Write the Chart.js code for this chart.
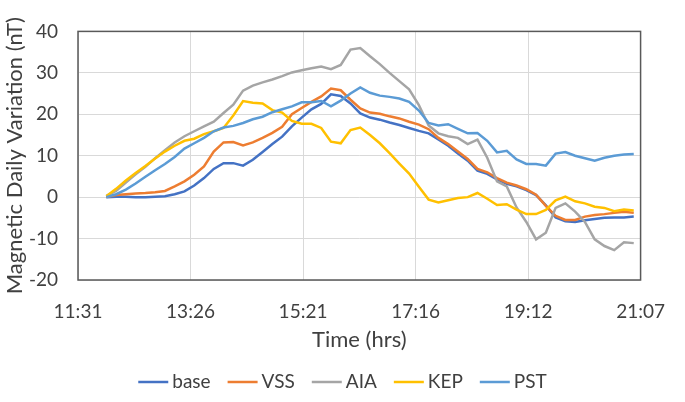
<!DOCTYPE html>
<html><head><meta charset="utf-8">
<script src="https://cdn.jsdelivr.net/npm/chart.js@4.4.1/dist/chart.umd.min.js"></script>
<style>html,body{margin:0;padding:0;background:#fff;overflow:hidden}</style>
</head><body>
<canvas id="c" width="685" height="402"></canvas>
<script>
// ---- data ----
const times = ['12:00','12:10','12:20','12:30','12:40','12:50','13:00','13:10','13:20','13:30',
 '13:40','13:50','14:00','14:10','14:20','14:30','14:40','14:50','15:00','15:10',
 '15:20','15:30','15:40','15:50','16:00','16:10','16:20','16:30','16:40','16:50',
 '17:00','17:10','17:20','17:30','17:40','17:50','18:00','18:10','18:20','18:30',
 '18:40','18:50','19:00','19:10','19:20','19:30','19:40','19:50','20:00','20:10',
 '20:20','20:30','20:40','20:50','21:00'];
const tickLabels = ['11:31','13:26','15:21','17:16','19:12','21:07'];
const yTicks = [-20,-10,0,10,20,30,40];

const base = [0,0.1,0.1,0,0,0.1,0.2,0.7,1.4,2.8,
 4.6,6.8,8.2,8.2,7.6,9.0,10.9,12.8,14.6,17.1,
 19.2,21.2,22.5,24.8,24.4,22.6,20.2,19.2,18.7,18.0,
 17.4,16.7,16.0,15.4,13.9,12.4,10.5,8.8,6.4,5.6,
 4.3,3.2,2.6,1.7,0.5,-2.0,-4.9,-5.8,-6.0,-5.6,
 -5.3,-5.0,-4.9,-4.9,-4.7];
const vss = [0,0.5,0.7,0.9,1.0,1.2,1.5,2.6,3.8,5.4,
 7.4,11.0,13.2,13.3,12.5,13.2,14.3,15.5,17.0,20.0,
 21.5,23.0,24.3,26.2,25.8,23.5,21.4,20.4,20.1,19.5,
 19.0,18.2,17.5,16.4,14.3,12.8,11.0,9.2,6.8,6.0,
 4.6,3.5,2.8,1.9,0.6,-2.1,-4.5,-5.5,-5.5,-4.7,
 -4.3,-4.1,-3.8,-3.5,-3.8];
const aia = [0.3,1.5,3.5,5.5,7.3,9.4,11.3,13.2,14.7,15.9,
 17.1,18.2,20.3,22.3,25.7,26.9,27.7,28.4,29.2,30.1,
 30.6,31.1,31.5,30.9,31.9,35.6,36.0,34.0,32.1,30.0,
 28.0,26.0,22.2,17.3,15.4,14.7,14.3,12.8,13.9,9.5,
 3.8,2.6,-2.5,-6.0,-10.2,-8.6,-2.6,-1.5,-3.5,-6.0,
 -10.2,-11.8,-12.8,-10.9,-11.1];
const kep = [0.2,2.0,4.0,5.8,7.5,9.3,11.0,12.4,13.6,14.1,
 15.2,15.9,16.7,19.7,23.2,22.8,22.6,21.0,20.4,18.4,
 17.7,17.7,16.7,13.4,13.0,16.2,16.8,15.0,13.0,10.6,
 8.1,5.7,2.5,-0.6,-1.3,-0.75,-0.2,0,1.0,-0.4,
 -1.9,-1.7,-3.0,-4.1,-4.1,-3.1,-0.75,0.15,-1.0,-1.5,
 -2.3,-2.6,-3.4,-3.0,-3.2];
const pst = [0,0.7,1.8,3.3,4.9,6.5,8.0,9.7,11.7,13.0,
 14.3,15.9,16.8,17.2,17.9,18.8,19.4,20.5,21.2,21.9,
 22.9,22.9,23.2,21.9,23.3,25.0,26.5,25.2,24.5,24.2,
 23.8,23.0,20.9,17.9,17.3,17.6,16.5,15.4,15.5,13.6,
 10.8,11.2,9.1,8.0,8.0,7.6,10.5,10.9,10.0,9.4,
 8.8,9.5,10.0,10.3,10.4];

const seriesNames = ['base','VSS','AIA','KEP','PST'];
const seriesColors = ['#4472C4','#ED7D31','#A5A5A5','#FFC000','#5B9BD5'];
const seriesValues = [base, vss, aia, kep, pst];

// ---- helpers ----
const toMin = s => { const [h,m] = s.split(':').map(Number); return h*60+m; };
const t0 = toMin(tickLabels[0]);
const tEnd = toMin(tickLabels[tickLabels.length-1]);
const xs = times.map(s => toMin(s) - t0);

const FONT = 'Lato, "Open Sans", sans-serif';
const TXT = '#404040';

const datasets = seriesNames.map((n,i)=>({
  label: n,
  data: xs.map((x,j)=>({x:x, y:seriesValues[i][j]})),
  borderColor: seriesColors[i],
  backgroundColor: seriesColors[i],
  borderWidth: 2.5,
  pointRadius: 0,
  tension: 0,
  order: seriesNames.length - i
}));

const framePlugin = {
  id:'frame',
  afterDatasetsDraw(chart){
    const {ctx, chartArea:a} = chart;
    ctx.save();
    ctx.strokeStyle = '#595959';
    ctx.lineWidth = 1.5;
    ctx.strokeRect(a.left, a.top, a.right-a.left, a.bottom-a.top);
    ctx.restore();
  }
};

const legendPlugin = {
  id:'customLegend',
  afterDraw(chart){
    const ctx = chart.ctx;
    ctx.save();
    ctx.font = '19px ' + FONT;
    const lineW = 30, gap = 4, spacing = 17;
    const items = chart.data.datasets.map(d => ({label:d.label, color:d.borderColor, w: ctx.measureText(d.label).width}));
    let total = 0;
    items.forEach((it,i)=>{ total += lineW + gap + it.w + (i<items.length-1?spacing:0); });
    let x = chart.width/2 - total/2;
    const y = 382;
    ctx.textBaseline = 'middle';
    ctx.textAlign = 'left';
    items.forEach(it=>{
      ctx.strokeStyle = it.color;
      ctx.lineWidth = 2.5;
      ctx.beginPath(); ctx.moveTo(x, y); ctx.lineTo(x+lineW, y); ctx.stroke();
      x += lineW + gap;
      ctx.fillStyle = TXT;
      ctx.fillText(it.label, x, y);
      x += it.w + spacing;
    });
    ctx.restore();
  }
};

new Chart(document.getElementById('c'), {
  type:'line',
  data:{ datasets },
  options:{
    responsive:false,
    animation:false,
    devicePixelRatio:1,
    layout:{ padding:{ left:0, right:27, top:13, bottom:40 } },
    plugins:{ legend:{display:false}, tooltip:{enabled:false} },
    scales:{
      x:{
        type:'linear',
        min:0, max:tEnd - t0,
        afterBuildTicks(s){
          const n = tickLabels.length;
          s.ticks = tickLabels.map((l,i)=>({value: s.min + i*(s.max-s.min)/(n-1)}));
        },
        afterFit(s){ s.height = 82; },
        grid:{ color:'#d9d9d9', lineWidth:1, drawTicks:false },
        border:{ display:false },
        ticks:{ color:TXT, font:{family:FONT, size:19}, padding:20, maxRotation:0,
          autoSkip:false, callback:(v,i)=>tickLabels[i] },
        title:{ display:true, text:'Time (hrs)', color:TXT, font:{family:FONT, size:22}, padding:{top:0,bottom:9} }
      },
      y:{
        min:-20, max:40,
        afterBuildTicks(s){ s.ticks = yTicks.map(v=>({value:v})); },
        afterFit(s){ s.width = 78; },
        grid:{ color:'#d9d9d9', lineWidth:1, drawTicks:false },
        border:{ display:false },
        ticks:{ color:TXT, font:{family:FONT, size:19}, padding:20 },
        title:{ display:true, text:'Magnetic Daily Variation (nT)', color:TXT, font:{family:FONT, size:22}, padding:{top:2,bottom:0} }
      }
    }
  },
  plugins:[framePlugin, legendPlugin]
});
</script>
</body></html>
